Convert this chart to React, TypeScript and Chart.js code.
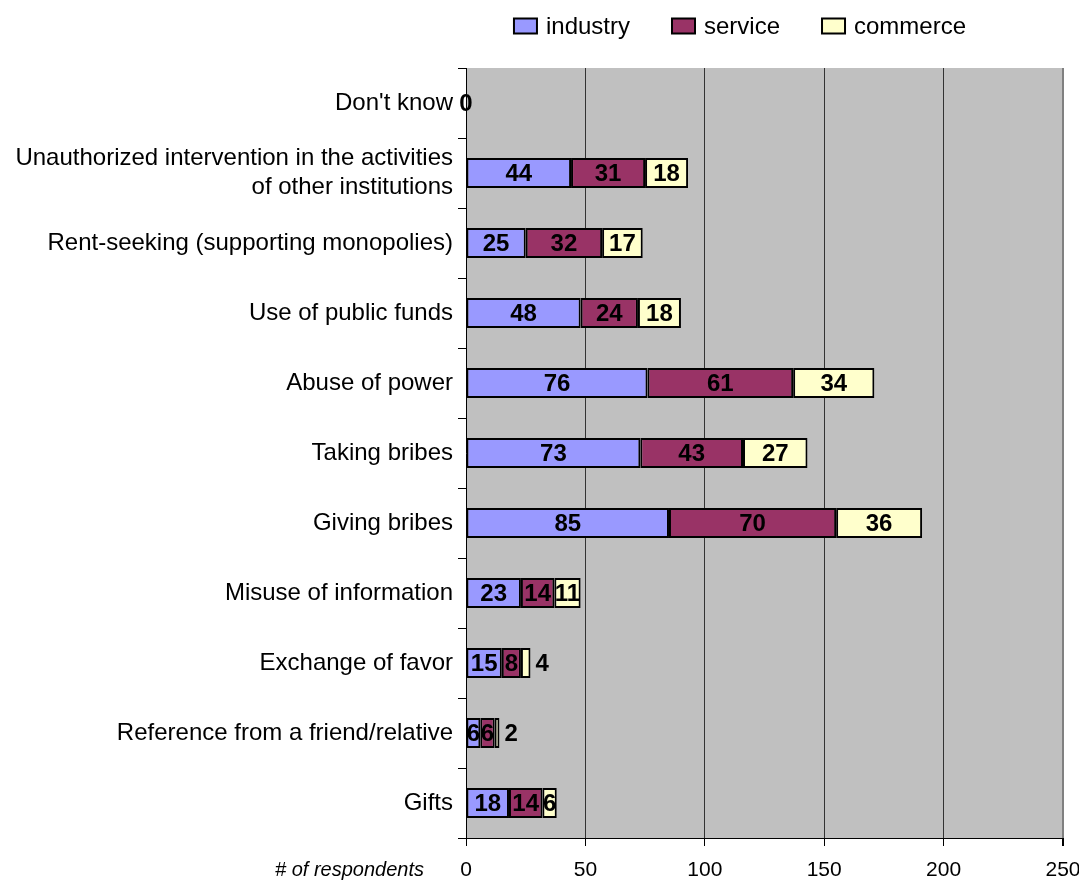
import React, { useEffect, useRef } from "react";
import { Chart, registerables } from "chart.js";

Chart.register(...registerables);

const categories: (string | string[])[] = [
  "Don't know",
  ["Unauthorized intervention in the activities", "of other institutions"],
  "Rent-seeking (supporting monopolies)",
  "Use of public funds",
  "Abuse of power",
  "Taking bribes",
  "Giving bribes",
  "Misuse of information",
  "Exchange of favor",
  "Reference from a friend/relative",
  "Gifts",
];

const industry = [0, 44, 25, 48, 76, 73, 85, 23, 15, 6, 18];
const service = [0, 31, 32, 24, 61, 43, 70, 14, 8, 6, 14];
const commerce = [0, 18, 17, 18, 34, 27, 36, 11, 4, 2, 6];

const seriesNames = ["industry", "service", "commerce"];
const seriesColors = ["#9999FF", "#993366", "#FFFFCC"];
const xTicks = [0, 50, 100, 150, 200, 250];
const xTitle = "# of respondents";

const FONT = "'Liberation Sans', Arial, sans-serif";

export default function App() {
  const ref = useRef<HTMLCanvasElement | null>(null);

  useEffect(() => {
    document.body.style.margin = "0";
    const canvas = ref.current!;
    const bgPlugin = {
      id: "bgPlugin",
      beforeDraw(chart: any) {
        const { ctx, chartArea } = chart;
        ctx.save();
        ctx.fillStyle = "#C0C0C0";
        ctx.fillRect(chartArea.left, chartArea.top, chartArea.right - chartArea.left, chartArea.bottom - chartArea.top);
        ctx.restore();
      },
      afterDraw(chart: any) {
        const { ctx, chartArea } = chart;
        ctx.save();
        // legend
        ctx.font = `24px ${FONT}`;
        ctx.textBaseline = "middle";
        ctx.textAlign = "left";
        const gap = 42;
        const boxW = 23, boxH = 15, boxGap = 9;
        const widths = seriesNames.map((n) => boxW + boxGap + ctx.measureText(n).width);
        const total = widths.reduce((a, b) => a + b, 0) + gap * (widths.length - 1);
        let x = 740 - total / 2;
        const y = 26;
        seriesNames.forEach((n, i) => {
          ctx.fillStyle = seriesColors[i];
          ctx.fillRect(x, y - boxH / 2, boxW, boxH);
          ctx.lineWidth = 2;
          ctx.strokeStyle = "#000";
          ctx.strokeRect(x, y - boxH / 2, boxW, boxH);
          ctx.fillStyle = "#000";
          ctx.fillText(n, x + boxW + boxGap, y + 1);
          x += widths[i] + gap;
        });
        // x axis title
        ctx.font = `italic 20px ${FONT}`;
        ctx.textAlign = "right";
        ctx.fillText(xTitle, chartArea.left - 42, 870);
        // data labels
        ctx.font = `bold 24px ${FONT}`;
        ctx.fillStyle = "#000";
        ctx.textBaseline = "middle";
        chart.data.datasets.forEach((ds: any, di: number) => {
          const meta = chart.getDatasetMeta(di);
          meta.data.forEach((bar: any, i: number) => {
            const v = ds.data[i];
            if (v === 0 && di > 0) return;
            const txt = String(v);
            const w = ctx.measureText(txt).width;
            const segW = Math.abs(bar.x - bar.base);
            let cx = (bar.x + bar.base) / 2;
            ctx.textAlign = "center";
            if (di === 2 && w > segW) {
              ctx.textAlign = "left";
              cx = Math.max(bar.x, bar.base) + 5;
            }
            ctx.fillText(txt, cx, bar.y + 1);
          });
        });
        ctx.restore();
      },
    };

    const chart = new Chart(canvas, {
      type: "bar",
      data: {
        labels: categories,
        datasets: [industry, service, commerce].map((d, i) => ({
          label: seriesNames[i],
          data: d,
          backgroundColor: seriesColors[i],
          borderColor: "#000",
          borderWidth: 2,
          borderSkipped: false,
          categoryPercentage: 1,
          barPercentage: 0.43,
        })),
      },
      options: {
        indexAxis: "y",
        animation: false,
        responsive: false,
        maintainAspectRatio: false,
        layout: { padding: { top: 68, right: 16, bottom: 0, left: 0 } },
        plugins: {
          legend: { display: false },
          tooltip: { enabled: false },
        },
        scales: {
          x: {
            stacked: true,
            min: 0,
            max: 250,
            afterBuildTicks(scale: any) {
              scale.ticks = xTicks.map((v) => ({ value: v }));
            },
            afterFit(scale: any) {
              scale.height = 42;
              scale.paddingRight = 0;
              scale.paddingLeft = 0;
            },
            border: { display: true, color: "#000", width: 1 },
            grid: {
              color: (c: any) => (c.tick && c.tick.value === 250 ? "#808080" : c.tick && c.tick.value === 0 ? "rgba(0,0,0,0)" : "#333"),
              lineWidth: (c: any) => (c.tick && c.tick.value === 250 ? 2 : 1),
              tickColor: "#000",
              tickLength: 8,
              drawTicks: true,
            },
            ticks: {
              color: "#000",
              font: { family: FONT, size: 21 },
              padding: 12,
            },
          },
          y: {
            stacked: true,
            offset: true,
            afterFit(scale: any) {
              scale.width = 466;
            },
            border: { display: true, color: "#000", width: 1 },
            grid: {
              offset: true,
              drawOnChartArea: false,
              tickColor: "#000",
              tickLength: 8,
            },
            ticks: {
              color: "#000",
              font: { family: FONT, size: 24 },
              padding: 5,
            },
          },
        },
      },
      plugins: [bgPlugin],
    });
    return () => chart.destroy();
  }, []);

  return <canvas ref={ref} width={1079} height={880} style={{ display: "block" }} />;
}
